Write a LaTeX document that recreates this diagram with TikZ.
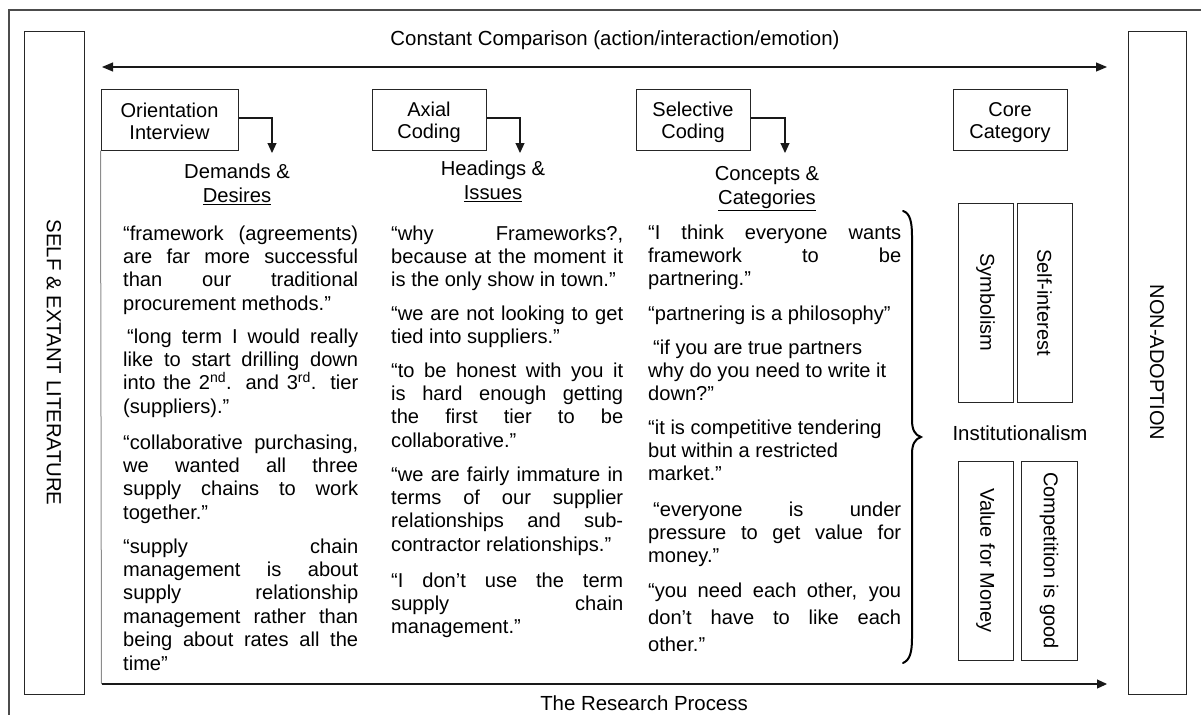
\documentclass[tikz,border=0pt]{standalone}
\usepackage{fontspec}
\setmainfont{Liberation Sans}
\usetikzlibrary{arrows.meta}
\newlength{\qw}
\newcommand{\jline}[1]{{\spaceskip=0pt\xspaceskip=0pt\makebox[\qw][s]{#1}}}
\newcommand{\topstrut}{\rule{0pt}{20pt}}
\newcommand{\botstrut}{\rule[-2.6pt]{0pt}{2.6pt}}
\begin{document}
\begin{tikzpicture}[x=1pt,y=-1pt,
  box/.style={draw=black!85, line width=1pt, inner sep=0pt, align=center, font=\fontsize{20}{22}\selectfont},
  lab/.style={inner sep=0pt, font=\fontsize{20.4}{24}\selectfont},
  head/.style={inner sep=0pt, align=center, font=\fontsize{20.2}{24}\selectfont},
  quote/.style={anchor=base west, inner sep=0pt, align=justify, font=\fontsize{20.1}{23.4}\selectfont},
  qa/.style={quote, text width=235pt, execute at begin node={\setlength{\qw}{235pt}\spaceskip=0pt\xspaceskip=0pt}},
  qb/.style={quote, text width=232pt, execute at begin node={\setlength{\qw}{232pt}\spaceskip=0pt\xspaceskip=0pt}},
  qc/.style={quote, text width=253pt, execute at begin node={\setlength{\qw}{253pt}\spaceskip=0pt\xspaceskip=0pt}},
  conn/.style={line width=1.1pt, draw=black!90, -{Triangle[length=10pt,width=9pt]}},
  frame/.style={line width=1.2pt, draw=black!70}]
\useasboundingbox (0,0) rectangle (1201,715);
% outer frame (clipped by the page)
\draw[frame] (1201,10) -- (9,10) -- (9,715);
% side boxes
\node[box, font=\fontsize{20.4}{22}\selectfont, rotate=-90, minimum width=663pt, minimum height=60pt] (lit) at (54,362.5) {SELF \& EXTANT LITERATURE};
\node[box, rotate=-90, minimum width=663pt, minimum height=58pt] (non) at (1157,362.5) {NON-ADOPTION};
% top arrow
\node[lab] (cc) at (615,40) {Constant Comparison (action/interaction/emotion)};
\coordinate (ccL) at (102,67);
\coordinate (ccR) at (1107,67);
\draw[line width=1.1pt, draw=black!90, {Triangle[length=11pt,width=9pt]}-{Triangle[length=11pt,width=9pt]}] (ccL) -- (ccR);
% stage boxes
\node[box, minimum width=137pt, minimum height=61pt] (oi) at (169.5,119.5) {\topstrut Orientation\\Interview\botstrut};
\node[box, minimum width=114pt, minimum height=61pt] (ax) at (429,119.5) {\topstrut Axial\\Coding\botstrut};
\node[box, minimum width=114pt, minimum height=61pt] (se) at (693,119.5) {\topstrut Selective\\Coding\botstrut};
\node[box, minimum width=114pt, minimum height=61pt] (co) at (1010,119.5) {\topstrut Core\\Category\botstrut};
\coordinate (oiA) at (272,153);
\coordinate (axA) at (520,153);
\coordinate (seA) at (785,153);
\draw[conn] ([yshift=1.5pt]oi.east) -| (oiA);
\draw[conn] ([yshift=1.5pt]ax.east) -| (axA);
\draw[conn] ([yshift=1.5pt]se.east) -| (seA);
% headings
\node[head] (dd) at (237,184) {Demands \&\\\underline{Desires}};
\node[head] (hi) at (493,181) {Headings \&\\\underline{Issues}};
\node[head] (cg) at (767,189) {Concepts \&\\\underline{Categories}};
% bottom arrow
\coordinate (rpC) at (101.5,684);
\coordinate (rpE) at (1107,684);
\draw[line width=1pt, draw=black!45] (oi.south west) -- (rpC);
\draw[conn] (rpC) -- (rpE);
\node[lab] (rp) at (644,703) {The Research Process};
% column 1
\node[qa] (c1a) at (123,240) {\jline{“framework (agreements)}\\\jline{are far more successful}\\\jline{than our traditional}\\procurement methods.”};
\node[qa] (c1b) at (123,343) {\jline{\hspace*{4pt}“long term I would really}\\\jline{like to start drilling down}\\\jline{into the 2\textsuperscript{nd}. and 3\textsuperscript{rd}. tier}\\(suppliers).”};
\node[qa] (c1c) at (123,449) {\jline{“collaborative purchasing,}\\\jline{we wanted all three}\\\jline{supply chains to work}\\together.”};
\node[qa] (c1d) at (123,553) {\jline{“supply chain}\\\jline{management is about}\\\jline{supply relationship}\\\jline{management rather than}\\\jline{being about rates all the}\\time”};
% column 2
\node[qb] (c2a) at (391,240) {\jline{“why Frameworks?,}\\\jline{because at the moment it}\\is the only show in town.”};
\node[qb] (c2b) at (391,320) {\jline{“we are not looking to get}\\tied into suppliers.”};
\node[qb] (c2c) at (391,377) {\jline{“to be honest with you it}\\\jline{is hard enough getting}\\\jline{the first tier to be}\\collaborative.”};
\node[qb] (c2d) at (391,481) {\jline{“we are fairly immature in}\\\jline{terms of our supplier}\\\jline{relationships and sub-}\\contractor relationships.”};
\node[qb] (c2e) at (391,587) {\jline{“I don’t use the term}\\\jline{supply chain}\\management.”};
% column 3
\node[qc] (c3a) at (648,239) {\jline{“I think everyone wants}\\\jline{framework to be}\\partnering.”};
\node[qc] (c3b) at (648,320) {“partnering is a philosophy”};
\node[qc] (c3c) at (648,354) {\hspace*{5pt}“if you are true partners\\why do you need to write it\\down?”};
\node[qc] (c3d) at (648,434) {“it is competitive tendering\\but within a restricted\\market.”};
\node[qc] (c3e) at (648,516) {\jline{\hspace*{5pt}“everyone is under}\\\jline{pressure to get value for}\\money.”};
\node[qc, font=\fontsize{20.1}{27}\selectfont] (c3f) at (648,597) {\jline{“you need each other, you}\\\jline{don’t have to like each}\\other.”};
% brace
\draw[line width=2pt, line cap=round] (903,211) .. controls (910,213) and (912,222) .. (912,236) -- (912,420) .. controls (912,430) and (915,435) .. (921,437) .. controls (915,439) and (912,444) .. (912,454) -- (912,638) .. controls (912,652) and (910,660) .. (903,663);
% core category boxes
\node[box, rotate=-90, minimum width=199pt, minimum height=55pt] (sym) at (985.5,302.5) {Symbolism};
\node[box, rotate=-90, minimum width=199pt, minimum height=55pt] (sel) at (1044.5,302.5) {Self-interest};
\node[lab] (inst) at (1020,433) {Institutionalism};
\node[box, rotate=-90, minimum width=199pt, minimum height=55pt] (val) at (985.5,560.5) {Value for Money};
\node[box, rotate=-90, minimum width=199pt, minimum height=56pt] (com) at (1049,560.5) {Competition is good};
\end{tikzpicture}
\end{document}
